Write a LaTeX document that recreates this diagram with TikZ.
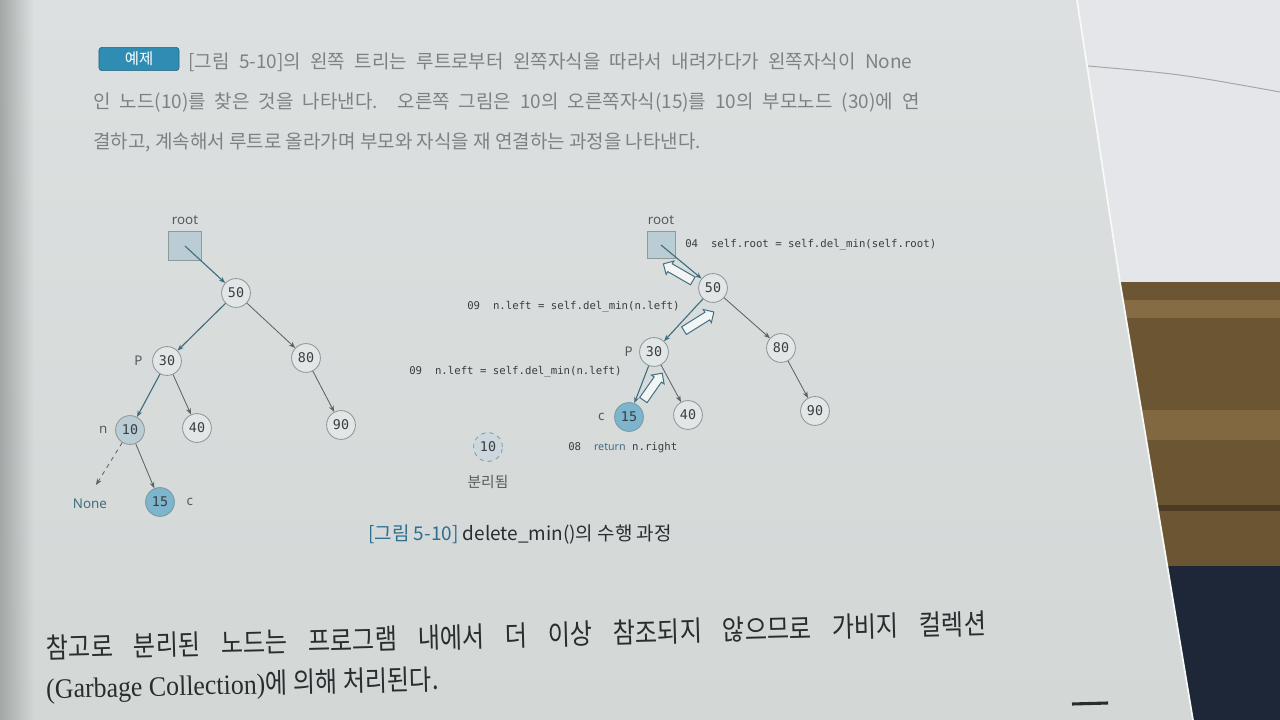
\documentclass[tikz,border=0pt]{standalone}
\usepackage{fontspec}
\newfontfamily\krfont{Noto Sans CJK KR}
\newfontfamily\krnarrow[FakeStretch=0.86]{Noto Sans CJK KR}
\newfontfamily\codefont{DejaVu Sans Mono}
\newfontfamily\labelfont{Noto Sans}
\newfontfamily\latinserif[FakeStretch=0.92]{Liberation Serif}
\usetikzlibrary{arrows.meta,shapes.arrows,positioning,fadings}

\definecolor{pageGray}{HTML}{D3D7D6}
\definecolor{pageLight}{HTML}{DDE0E0}
\definecolor{bindShadow}{HTML}{A3A8A7}
\definecolor{paperWhite}{HTML}{E4E6E9}
\definecolor{woodBrown}{HTML}{6C5532}
\definecolor{woodLight}{HTML}{866C44}
\definecolor{deskNavy}{HTML}{1D2738}
\definecolor{textGray}{HTML}{7C8282}
\definecolor{inkDark}{HTML}{2A2D2E}
\definecolor{badgeTeal}{HTML}{2F8DB3}
\definecolor{capTeal}{HTML}{2D6F8C}
\definecolor{nodeFill}{HTML}{E2E6E6}
\definecolor{nodeLine}{HTML}{8E999A}
\definecolor{boxFill}{HTML}{BACDD5}
\definecolor{leafBlue}{HTML}{7DB5CC}
\definecolor{pathTeal}{HTML}{3F6E80}
\definecolor{linkGray}{HTML}{5A6466}
\definecolor{codeInk}{HTML}{383D3F}

\tikzset{
  treeNode/.style={circle, draw=nodeLine, fill=nodeFill, line width=0.6pt,
    minimum size=0.72cm, inner sep=0pt,
    font=\codefont\fontsize{9.5}{11}\selectfont, text=codeInk},
  minNode/.style={treeNode, fill=leafBlue, draw=pathTeal!70},
  rootBox/.style={rectangle, draw=nodeLine, fill=boxFill, line width=0.6pt, inner sep=0pt},
  link/.style={draw=linkGray, line width=0.6pt, -{Stealth[length=4.5pt, width=3.5pt]}},
  pathLink/.style={link, draw=pathTeal, line width=0.8pt},
  backArrow/.style={single arrow, draw=pathTeal, fill=nodeFill!40!white, line width=0.7pt,
    single arrow head extend=0.08cm, inner sep=0pt},
  tagText/.style={font=\labelfont\fontsize{9.5}{11}\selectfont, text=codeInk!85, inner sep=1pt},
  codeText/.style={font=\codefont\fontsize{7.6}{9}\selectfont, text=codeInk, anchor=west, inner sep=0pt},
  bodyText/.style={font=\krfont\fontsize{13.5}{16}\selectfont, text=textGray, anchor=west, inner sep=0pt},
  badge/.style={rectangle, rounded corners=2pt, fill=badgeTeal, draw=badgeTeal!70!black,
    text=white, minimum width=2cm, minimum height=0.58cm, inner sep=0pt,
    font=\krfont\fontsize{11}{12}\selectfont},
  captionText/.style={font=\krfont\fontsize{13.5}{16}\selectfont, text=inkDark, anchor=west, inner sep=0pt},
  noteText/.style={font=\krnarrow\fontsize{20}{23}\selectfont, text=inkDark, anchor=west, inner sep=0pt}
}
% empty strut that sets the shaft width of the hollow arrows
\newcommand{\shaftStrut}{\rule{0pt}{0.2cm}}

\begin{document}
\begin{tikzpicture}[x=0.025cm, y=-0.025cm]
	% Define the size of the photo
	\useasboundingbox (0,0) rectangle (1280,720);
	
	% Desk, wood and the other sheet behind the page
	\fill[deskNavy] (0,0) rectangle (1280,720);
	\fill[paperWhite] (1060,0) rectangle (1280,282);
	\fill[woodBrown] (1100,282) rectangle (1280,566);
	\fill[woodLight] (1100,300) rectangle (1280,318);
	\fill[woodLight!80!woodBrown] (1100,410) rectangle (1280,440);
	\fill[woodBrown!70!black] (1100,505) rectangle (1280,511);
	\draw[gray!70, line width=0.7pt] (1088,66) .. controls (1180,74) .. (1280,92);
	
	% The book page
	\shade[top color=pageLight, bottom color=pageGray] (0,0) -- (1077,0) -- (1120,282) -- (1193,720) -- (0,720) -- cycle;
	\draw[white!85!pageGray, line width=1.2pt] (1077,0) -- (1120,282) -- (1193,720);
	\fill[bindShadow, path fading=east] (0,0) rectangle (34,720);
	\draw[inkDark, line width=2.2pt] (1072,704) -- (1108,703);
	
	% Paragraph above the figure
	\begin{scope}
		\node[badge] (exampleBadge) at (139,59) {예제};
		\node[bodyText] (paraLineOne) at (188,62) {\makebox[18.1cm][s]{[그림 5-10]의 왼쪽 트리는 루트로부터 왼쪽자식을 따라서 내려가다가 왼쪽자식이 None}};
		\node[bodyText] (paraLineTwo) at (93,102) {\makebox[20.65cm][s]{인 노드(10)를 찾은 것을 나타낸다. 오른쪽 그림은 10의 오른쪽자식(15)를 10의 부모노드 (30)에 연}};
		\node[bodyText] (paraLineThree) at (93,142) {결하고, 계속해서 루트로 올라가며 부모와 자식을 재 연결하는 과정을 나타낸다.};
	\end{scope}
	
	% Left tree: going down to the minimum
	\begin{scope}
		\node[rootBox, minimum width=0.82cm, minimum height=0.72cm] (leftRootBox) at (185,246) {};
		\node[tagText, above=0.12cm of leftRootBox] (leftRootLabel) {root};
		
		\node[treeNode] (leftFifty) at (236,293) {50};
		\node[treeNode] (leftThirty) at (167,361) {30};
		\node[treeNode] (leftEighty) at (306,358) {80};
		\node[treeNode, fill=boxFill] (leftTen) at (130,430) {10};
		\node[treeNode] (leftForty) at (197,428) {40};
		\node[treeNode] (leftNinety) at (341,425) {90};
		\node[minNode] (leftFifteen) at (160,502) {15};
		\coordinate (noneEnd) at (96,485);
		
		\node[tagText, left=0.2cm of leftThirty] (leftPLabel) {P};
		\node[tagText, left=0.15cm of leftTen] (leftNLabel) {n};
		\node[tagText, right=0.25cm of leftFifteen] (leftCLabel) {c};
		\node[tagText, text=pathTeal] (noneLabel) at (90,504) {None};
		
		\draw[pathLink] (leftRootBox.center) -- (leftFifty);
		\draw[pathLink] (leftFifty) -- (leftThirty);
		\draw[link] (leftFifty) -- (leftEighty);
		\draw[pathLink] (leftThirty) -- (leftTen);
		\draw[link] (leftThirty) -- (leftForty);
		\draw[link] (leftEighty) -- (leftNinety);
		\draw[link] (leftTen) -- (leftFifteen);
		\draw[link, dashed] (leftTen) -- (noneEnd);
	\end{scope}
	
	% Right tree: linking back up to the root
	\begin{scope}
		\node[rootBox, minimum width=0.7cm, minimum height=0.68cm] (rightRootBox) at (661,245) {};
		\node[tagText, above=0.12cm of rightRootBox] (rightRootLabel) {root};
		
		\node[treeNode] (rightFifty) at (713,288) {50};
		\node[treeNode] (rightThirty) at (654,352) {30};
		\node[treeNode] (rightEighty) at (781,348) {80};
		\node[minNode] (rightFifteen) at (629,417) {15};
		\node[treeNode] (rightForty) at (688,415) {40};
		\node[treeNode] (rightNinety) at (815,411) {90};
		\node[treeNode, dashed, fill=boxFill!55!nodeFill] (detachedTen) at (488,447) {10};
		\node[tagText, font=\krfont\fontsize{10.5}{12}\selectfont, below=0.3cm of detachedTen] (detachedLabel) {분리됨};
		
		\node[tagText, left=0.12cm of rightThirty] (rightPLabel) {P};
		\node[tagText, left=0.2cm of rightFifteen] (rightCLabel) {c};
		
		\draw[pathLink] (rightRootBox.center) -- (rightFifty);
		\draw[pathLink] (rightFifty) -- (rightThirty);
		\draw[link] (rightFifty) -- (rightEighty);
		\draw[pathLink] (rightThirty) -- (rightFifteen);
		\draw[link] (rightThirty) -- (rightForty);
		\draw[link] (rightEighty) -- (rightNinety);
		
		% Hollow arrows for the returned links
		\node[backArrow, minimum height=0.85cm, rotate=150] (backToRoot) at (680,273.5) {\shaftStrut};
		\node[backArrow, minimum height=0.88cm, rotate=32] (backToFifty) at (697,322.5) {\shaftStrut};
		\node[backArrow, minimum height=0.82cm, rotate=55] (backToThirty) at (651.5,388.5) {\shaftStrut};
		
		% Code lines
		\node[codeText] (codeRoot) at (685,245) {04\ \ self.root = self.del\_min(self.root)};
		\node[codeText] (codeLeftUpper) at (467,307) {09\ \ n.left = self.del\_min(n.left)};
		\node[codeText] (codeLeftLower) at (409,372) {09\ \ n.left = self.del\_min(n.left)};
		\node[codeText] (codeReturn) at (568,448) {08\ \ {\labelfont\color{pathTeal}return} n.right};
	\end{scope}
	
	% Caption
	\node[captionText] (figCaption) at (368,535) {{\color{capTeal}[그림 5-10]} delete\_min()의 수행 과정};
	
	% Text below the figure
	\node[noteText, rotate=1.5] (noteLineOne) at (46,648) {\makebox[23.5cm][s]{참고로 분리된 노드는 프로그램 내에서 더 이상 참조되지 않으므로 가비지 컬렉션}};
	\node[noteText, rotate=1.3] (noteLineTwo) at (46,690) {{\latinserif (Garbage Collection)}에 의해 처리된다.};
\end{tikzpicture}
\end{document}
